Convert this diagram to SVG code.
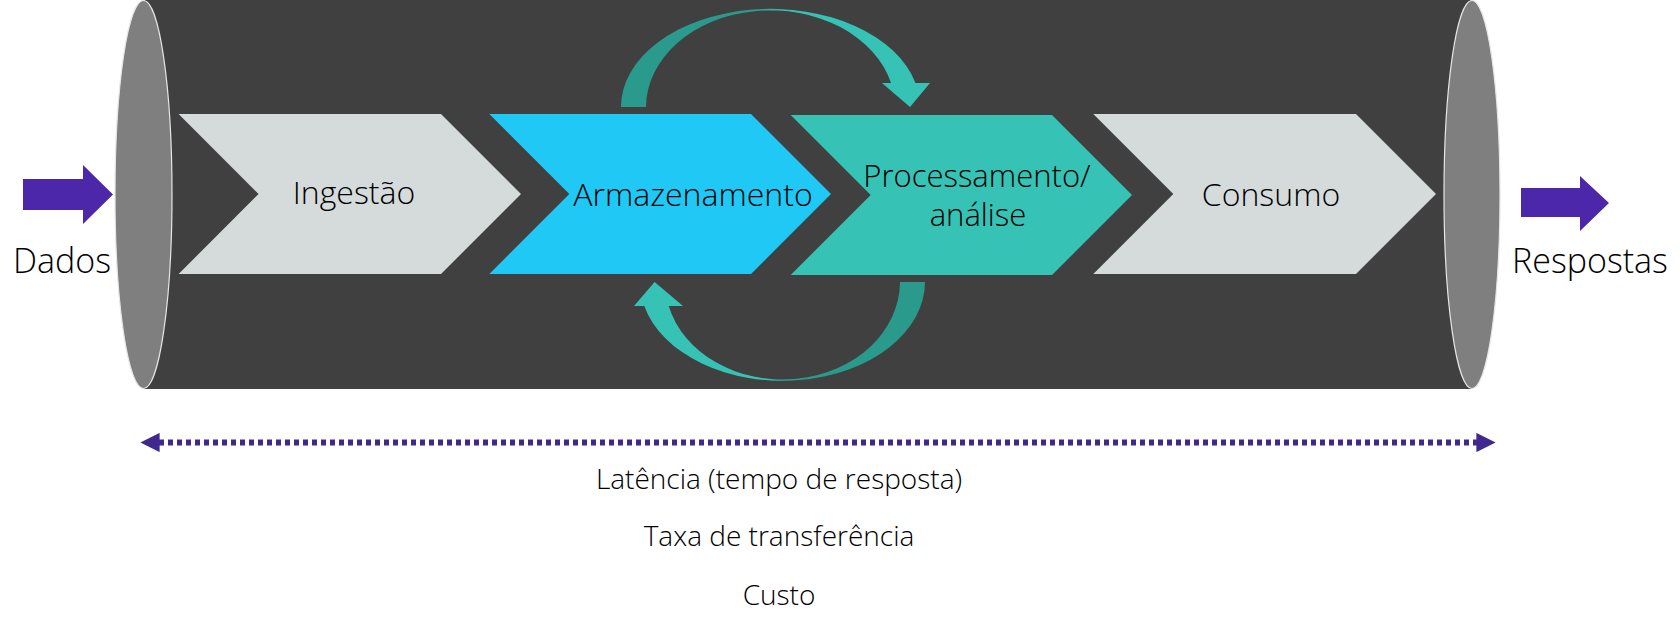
<svg xmlns="http://www.w3.org/2000/svg" width="1680" height="632" viewBox="0 0 1680 632">
<style>
text{font-family:"Open Sans","Liberation Sans",sans-serif;font-weight:300;fill:#000;}
.lbl{font-size:32px;text-anchor:middle;}
.lbl2{font-size:31px;text-anchor:middle;}
.side{font-size:34px;}
.metric{font-size:28px;text-anchor:middle;}
.cap{fill:#7f7f7f;stroke:#e6e6e6;stroke-width:1.2;}
.flow{fill:#4d27aa;}
</style>
<defs>
<linearGradient id="gTop" gradientUnits="userSpaceOnUse" x1="621" y1="0" x2="930" y2="0">
<stop offset="0" stop-color="#2a9a8d"/><stop offset="0.42" stop-color="#2a9a8d"/><stop offset="0.55" stop-color="#36c2b4"/><stop offset="1" stop-color="#36c2b4"/>
</linearGradient>
<linearGradient id="gBot" gradientUnits="userSpaceOnUse" x1="634" y1="0" x2="925" y2="0">
<stop offset="0" stop-color="#36c2b4"/><stop offset="0.45" stop-color="#36c2b4"/><stop offset="0.58" stop-color="#2a9a8d"/><stop offset="1" stop-color="#2a9a8d"/>
</linearGradient>
<marker id="ah" viewBox="0 0 10 10" refX="5" refY="5" markerWidth="3.2" markerHeight="3.2" orient="auto-start-reverse" markerUnits="strokeWidth">
<path d="M0,0 L10,5 L0,10 Z" fill="#40288f"/>
</marker>
</defs>

<g id="pipeline">
<rect x="143.5" y="0" width="1328.5" height="389" fill="#404040"/>
<ellipse class="cap" cx="143.5" cy="194.5" rx="28.5" ry="194"/>
<ellipse class="cap" cx="1472" cy="194.5" rx="28" ry="194"/>
</g>

<g id="ingestao">
<polygon points="178.6,114 441,114 521,194 441,274 178.6,274 258.6,194" fill="#d5dbdb"/>
<text class="lbl" x="354" y="204">Ingestão</text>
</g>

<g id="armazenamento">
<polygon points="489.3,114 751,114 831,194 751,274 489.3,274 569.3,194" fill="#1fc8f5"/>
<text class="lbl" x="693" y="206">Armazenamento</text>
</g>

<g id="processamento">
<polygon points="790.7,115 1052,115 1132,195 1052,275 790.7,275 870.7,195" fill="#36c2b4"/>
<text class="lbl2" x="977" y="187">Processamento/</text>
<text class="lbl2" x="978" y="226">análise</text>
</g>

<g id="consumo">
<polygon points="1093.3,114 1356,114 1436,194 1356,274 1093.3,274 1173.3,194" fill="#d5dbdb"/>
<text class="lbl" x="1271" y="206">Consumo</text>
</g>

<g id="dados">
<polygon class="flow" points="23,179 83,179 83,165 113,194.5 83,224 83,210 23,210"/>
<text class="side" x="13" y="273">Dados</text>
</g>

<g id="respostas">
<polygon class="flow" points="1521,188 1580,188 1580,176 1609,203 1580,231 1580,217 1521,217"/>
<text class="side" x="1512" y="273">Respostas</text>
</g>

<g id="connectors">
<path d="M621,107 A149.5,98 0 0 1 915.5,83 L930,83 L910,107 L882,83 L891,83 A124.5,97 0 0 0 646,107 Z" fill="url(#gTop)"/>
<path d="M925,282 A142.5,99 0 0 1 644.3,306 L634,306 L654.6,282 L683,306 L668.7,306 A117.5,98 0 0 0 900,282 Z" fill="url(#gBot)"/>
<line x1="150" y1="442.5" x2="1486" y2="442.5" stroke="#40288f" stroke-width="6" stroke-dasharray="5 4" marker-start="url(#ah)" marker-end="url(#ah)"/>
</g>

<g id="metrics">
<text class="metric" x="779" y="489">Latência (tempo de resposta)</text>
<text class="metric" x="779" y="546">Taxa de transferência</text>
<text class="metric" x="779" y="605">Custo</text>
</g>
</svg>
